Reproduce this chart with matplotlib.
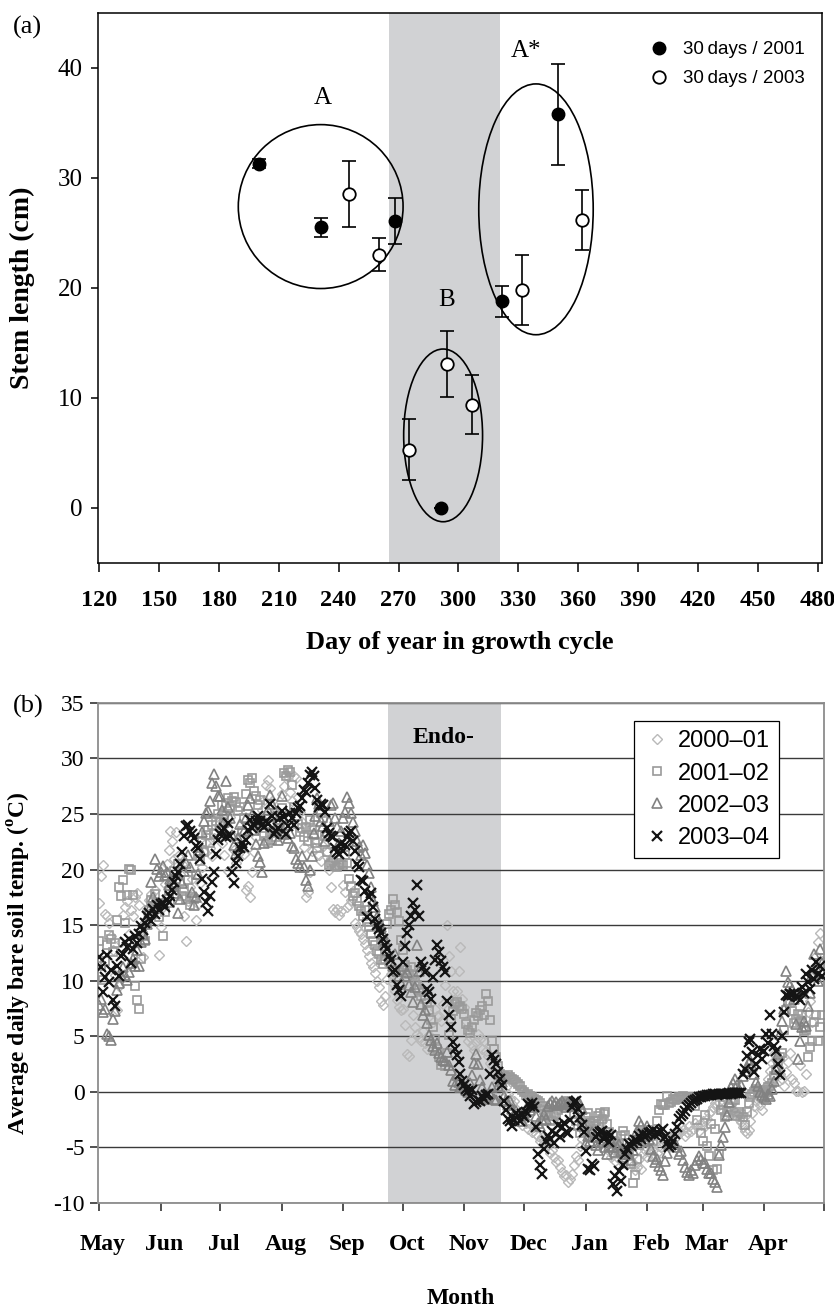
import matplotlib.pyplot as plt
from matplotlib.patches import Ellipse
import numpy as np

plt.rcParams['font.family'] = 'Liberation Serif'
plt.rcParams['axes.unicode_minus'] = False
plt.rcParams['mathtext.fontset'] = 'custom'
plt.rcParams['mathtext.rm'] = 'Liberation Serif'
plt.rcParams['mathtext.bf'] = 'Liberation Serif:bold'

# ---- (a) stem length after 30 days ----
day_2001 = [200, 231, 268, 291, 322, 350]
len_2001 = [31.3, 25.5, 26.1, 0.0, 18.8, 35.8]
err_2001 = [0.4, 0.9, 2.1, 0.0, 1.4, 4.6]

day_2003 = [245, 260, 275, 294, 307, 332, 362]
len_2003 = [28.5, 23.0, 5.3, 13.1, 9.4, 19.8, 26.2]
err_2003 = [3.0, 1.5, 2.8, 3.0, 2.65, 3.2, 2.75]

# group outlines: centre day, centre length, width (days), height (cm)
groups = {'A': (231, 27.4, 82.5, 14.9),
          'B': (292.3, 6.6, 39.5, 15.7),
          'A*': (338.8, 27.15, 57.3, 22.8)}

# ---- (b) average daily bare soil temperature, one value per day from 1 May ----
months = ['May', 'Jun', 'Jul', 'Aug', 'Sep', 'Oct', 'Nov', 'Dec', 'Jan', 'Feb', 'Mar', 'Apr']
month_days = [31, 30, 31, 31, 30, 31, 30, 31, 31, 28, 31, 30]

temp_0001 = [
    17.0, 19.4, 20.4, 16.0, 15.8, 15.2, 14.0, 12.8, 10.5, 7.4, 9.5, 13.5, 15.9, 16.6, 17.2, 14.2, 16.4, 15.8, 17.5, 17.9, 16.8, 14.6, 12.1, 15.3, 16.4, 17.3, 17.8, 16.9, 18.2, 16.5, 12.3,
    14.8, 16.6, 18.7, 20.5, 21.8, 23.5, 22.6, 21.0, 23.4, 21.2, 19.6, 20.5, 15.8, 13.6, 17.2, 18.4, 19.2, 17.6, 15.5, 16.9, 18.8, 20.2, 21.7, 22.4, 23.1, 21.9, 21.2, 22.8, 24.2, 24.7,
    23.6, 22.4, 21.3, 24.2, 19.9, 24.7, 23.1, 21.8, 20.6, 21.4, 22.8, 23.5, 21.4, 18.2, 18.5, 17.5, 19.8, 21.6, 22.9, 23.8, 24.6, 25.4, 26.3, 27.6, 28.1, 27.3, 26.2, 25.1, 24.4, 23.7, 25.0,
    26.8, 27.5, 28.5, 28.3, 27.0, 26.2, 28.4, 28.2, 26.5, 25.2, 24.3, 22.0, 17.5, 18.0, 19.8, 21.7, 23.7, 24.5, 22.6, 21.3, 20.8, 22.1, 23.0, 21.6, 20.0, 18.4, 16.5, 16.2, 16.5, 15.9, 16.3,
    18.6, 18.0, 16.6, 16.8, 17.3, 18.1, 15.2, 14.8, 14.5, 14.2, 13.8, 13.3, 12.8, 12.2, 11.6, 11.2, 10.7, 10.0, 9.4, 8.2, 7.8, 8.6, 10.2, 11.4, 10.6, 9.8, 9.1, 8.3, 7.6, 7.4,
    7.5, 6.0, 3.4, 3.2, 4.7, 6.9, 5.8, 5.2, 4.9, 4.6, 5.5, 4.4, 3.9, 5.1, 4.4, 6.3, 7.5, 6.8, 6.8, 6.4, 7.9, 9.6, 15.0, 12.2, 10.9, 9.1, 8.2, 9.1, 10.9, 13.0, 8.4,
    7.6, 6.4, 4.6, 4.9, 4.2, 3.8, 4.5, 5.2, 4.8, 3.9, 4.6, 3.7, 3.2, 2.6, 2.3, 1.8, 1.4, 1.0, 0.6, 0.9, 1.3, 0.4, -0.2, -0.6, -1.1, -0.8, -1.5, -2.1, -2.6, -3.0,
    -2.4, -2.8, -3.3, -2.9, -3.6, -3.2, -3.8, -4.0, -4.4, -4.1, -4.4, -4.6, -4.8, -5.5, -5.2, -5.9, -6.3, -6.1, -6.8, -7.2, -7.6, -7.5, -8.1, -7.8, -7.4, -6.6, -5.8, -6.1, -4.9, -4.2, -3.6,
    -3.1, -2.8, -3.4, -2.6, -3.0, -3.7, -2.9, -2.5, -2.6, -3.3, -4.2, -4.8, -5.3, -5.9, -5.5, -6.2, -5.9, -5.4, -5.8, -6.4, -5.6, -5.0, -5.7, -6.3, -6.6, -7.0, -6.8, -6.0, -6.9, -5.6, -5.2,
    -5.9, -5.4, -4.8, -5.2, -5.9, -5.5, -4.9, -5.0, -4.6, -4.2, -4.6, -5.0, -4.4, -4.0, -3.6, -4.0, -3.5, -3.1, -3.4, -4.0, -3.6, -3.1, -3.5, -3.3, -2.8, -3.1, -3.5, -3.0,
    -2.6, -3.1, -2.4, -1.9, -1.7, -1.4, -1.0, -1.2, -0.9, -1.5, -1.7, -2.0, -1.8, -1.4, -1.2, -1.6, -1.8, -2.1, -2.4, -2.7, -3.2, -3.5, -3.7, -3.4, -2.6, -1.9, -1.3, -0.8, -0.5, -1.2, -1.6,
    -0.4, 0.5, 1.2, 1.9, 2.6, 3.4, 2.9, 2.2, 1.6, 1.2, 0.5, 1.8, 2.7, 3.5, 1.2, 0.8, 0.1, 0.1, 2.4, 0.0, 0.1, 1.6, 7.2, 8.2, 6.3, 10.4, 12.2, 13.5, 14.3, 11.8,
]

temp_0102 = [
    13.6, 11.3, 10.1, 11.8, 13.2, 14.1, 13.8, 12.6, 13.4, 15.5, 18.4, 17.6, 19.1, 15.2, 17.7, 20.1, 20.0, 17.7, 9.5, 8.3, 7.5, 12.0, 14.0, 13.6, 15.2, 16.4, 17.3, 16.0, 17.8, 16.5, 15.7,
    17.0, 14.0, 16.2, 17.4, 18.1, 17.0, 18.8, 19.9, 19.2, 20.5, 18.9, 17.6, 18.3, 17.4, 19.1, 16.8, 17.5, 17.4, 19.5, 21.2, 20.8, 22.5, 21.6, 23.1, 23.6, 22.4, 24.0, 23.2, 24.4, 25.0,
    24.3, 25.8, 24.9, 26.0, 26.4, 25.7, 26.2, 26.5, 26.1, 25.3, 25.6, 23.5, 24.6, 26.8, 28.1, 27.8, 28.2, 27.1, 26.6, 25.8, 26.3, 24.0, 23.0, 22.6, 22.4, 23.3, 22.7, 23.5, 22.9, 24.2, 23.7,
    25.5, 28.7, 28.4, 29.0, 28.8, 27.6, 25.6, 24.8, 24.1, 23.4, 23.7, 22.9, 23.8, 22.6, 24.5, 23.6, 23.1, 22.4, 21.9, 25.7, 25.1, 24.6, 23.0, 21.6, 20.4, 20.6, 20.8, 20.3, 20.2, 20.4, 20.6,
    20.4, 21.3, 20.6, 19.2, 18.5, 17.6, 17.9, 17.2, 16.7, 16.3, 15.8, 16.4, 15.3, 14.8, 14.2, 13.6, 13.2, 12.7, 12.4, 11.9, 11.5, 12.0, 15.1, 16.0, 16.4, 17.4, 16.8, 16.2, 15.4, 13.7,
    12.8, 11.4, 11.0, 10.6, 11.2, 10.5, 10.0, 9.6, 9.2, 8.6, 9.0, 8.4, 8.0, 7.4, 6.5, 5.8, 4.8, 3.9, 3.1, 2.4, 2.8, 2.3, 3.5, 5.1, 6.6, 7.3, 7.9, 8.1, 7.6, 7.7, 7.5,
    7.0, 6.1, 5.6, 5.3, 5.8, 6.5, 7.1, 6.8, 7.4, 7.7, 6.9, 8.8, 8.2, 6.5, 4.6, 3.9, 3.1, 2.3, 1.6, 1.2, 1.4, 1.35, 1.5, 1.3, 1.2, 1.1, 0.9, 0.7, 0.5, 0.2,
    0.0, -0.3, -0.2, -0.4, -0.5, -0.6, -0.7, -0.8, -1.0, -1.3, -1.6, -1.9, -2.2, -2.6, -2.5, -2.2, -2.0, -1.6, -1.3, -1.1, -1.0, -0.9, -0.8, -1.1, -1.4, -2.0, -2.6, -3.1, -3.7, -3.2, -2.8,
    -2.3, -1.9, -2.8, -3.4, -3.1, -2.6, -2.2, -1.9, -2.4, -2.0, -1.8, -2.9, -3.6, -4.4, -4.0, -4.4, -4.9, -5.2, -4.0, -3.5, -3.9, -4.6, -5.6, -6.5, -8.2, -7.5, -6.0, -4.8, -3.9, -3.6, -4.1,
    -3.8, -3.4, -4.0, -4.4, -3.6, -2.6, -1.6, -1.1, -1.2, -1.2, -0.4, -1.0, -0.9, -0.6, -0.7, -0.6, -0.5, -0.5, -0.4, -0.6, -0.5, -0.5, -0.6, -0.6, -1.3, -2.5, -0.5, -3.7,
    -4.4, -2.1, -4.9, -5.8, -2.9, -7.0, -3.3, -6.9, -5.6, -1.6, -1.2, -2.3, -1.8, -1.4, -1.0, -0.7, -0.7, -2.2, -1.8, -2.0, -2.3, -3.0, -1.8, -1.0, -0.5, -0.2, 0.0, 0.3, 0.2, 0.1, 0.0,
    0.2, 0.0, 0.4, 0.5, 0.8, 1.4, 2.0, 2.8, 3.1, 3.5, 5.6, 7.4, 8.2, 8.0, 7.3, 6.2, 6.6, 7.0, 6.4, 6.9, 5.5, 5.6, 3.1, 4.0, 4.6, 6.3, 6.9, 4.6, 5.8, 6.9,
]

temp_0203 = [
    7.8, 8.4, 7.2, 7.5, 5.2, 5.0, 4.7, 6.6, 7.3, 9.2, 9.8, 10.4, 11.2, 10.5, 10.1, 10.8, 11.6, 12.0, 11.3, 12.8, 11.3, 13.5, 14.2, 13.8, 15.1, 16.4, 18.9, 17.5, 21.0, 20.1, 19.4,
    19.8, 20.3, 19.5, 19.8, 18.6, 19.2, 19.2, 18.5, 17.9, 16.1, 17.4, 18.8, 19.9, 20.6, 21.3, 20.2, 18.0, 16.8, 17.5, 19.6, 21.8, 23.4, 24.4, 25.1, 25.3, 26.2, 27.8, 28.6, 27.5, 26.6,
    26.6, 25.4, 24.3, 28.0, 25.6, 24.6, 23.1, 22.2, 21.5, 22.8, 24.1, 22.1, 23.5, 24.6, 25.8, 26.4, 24.9, 23.6, 22.3, 21.2, 20.7, 19.8, 22.4, 24.2, 25.4, 26.7, 25.9, 24.8, 23.6, 22.7, 23.5,
    26.6, 23.2, 24.0, 22.8, 23.3, 22.1, 21.9, 21.0, 20.6, 20.2, 21.2, 20.2, 19.1, 18.5, 20.0, 21.2, 23.3, 24.8, 26.4, 25.9, 24.4, 23.9, 22.6, 23.5, 24.4, 25.8, 26.0, 24.6, 23.8, 22.4, 23.5,
    24.6, 25.2, 26.5, 26.0, 25.1, 24.3, 23.5, 22.6, 22.0, 21.3, 22.2, 21.5, 20.4, 19.7, 18.4, 17.2, 16.6, 15.7, 15.2, 14.8, 14.2, 13.6, 12.8, 12.2, 11.8, 11.3, 12.4, 10.9, 10.4, 9.8,
    11.3, 10.4, 10.8, 9.6, 9.0, 8.1, 9.4, 13.2, 10.9, 7.9, 6.9, 7.4, 6.2, 5.1, 4.7, 4.1, 3.8, 4.4, 3.5, 3.1, 2.9, 2.8, 3.6, 2.4, 2.0, 1.0, 0.6, 1.5, 0.9, 0.4, 0.7,
    0.6, 0.2, 0.0, 0.8, 1.5, 2.6, 3.4, 2.5, 1.1, 0.4, -0.3, -0.5, -0.6, -0.2, 0.4, -0.6, -0.7, 0.5, 1.6, 0.9, -0.4, -0.7, -1.2, -0.8, -1.5, -2.0, -1.7, -2.3, -1.9, -2.6,
    -2.1, -1.8, -1.2, -1.6, -0.9, -1.4, -2.2, -2.8, -3.1, -2.5, -2.0, -2.4, -1.3, -1.0, -0.8, -1.1, -0.9, -1.2, -1.0, -0.8, -1.1, -1.4, -0.9, -1.2, -0.8, -1.0, -1.3, -0.9, -1.1, -1.5, -3.1,
    -4.6, -4.0, -4.4, -3.6, -4.1, -4.8, -5.2, -4.5, -3.8, -4.3, -5.0, -5.6, -4.9, -4.4, -5.0, -5.4, -5.0, -4.7, -5.3, -5.9, -5.6, -4.9, -5.6, -6.1, -5.2, -4.3, -3.5, -2.6, -3.0, -3.8, -4.4,
    -3.1, -4.2, -5.1, -5.8, -6.3, -6.0, -6.7, -7.0, -7.5, -6.2, -5.5, -4.8, -4.4, -4.2, -4.7, -5.0, -5.6, -5.3, -6.1, -6.8, -7.2, -7.5, -7.0, -7.3, -6.6, -6.1, -5.8, -6.0,
    -6.4, -6.4, -6.9, -7.3, -7.3, -7.8, -8.1, -8.6, -5.7, -4.8, -4.1, -3.2, -2.1, -0.9, 0.4, 0.8, 1.2, 0.6, 0.1, 0.6, 1.4, 1.9, 2.2, 2.6, 2.9, 2.3, 1.6, 0.9, 0.5, 0.0, -0.3,
    -0.5, -0.6, -0.2, -0.4, 0.3, 1.0, 2.1, 3.4, 5.2, 6.4, 7.5, 10.9, 9.9, 9.6, 9.2, 8.4, 6.1, 3.0, 4.6, 5.8, 6.4, 5.9, 7.7, 8.9, 10.5, 12.4, 11.2, 10.0, 12.9, 11.6,
]

temp_0304 = [
    12.1, 11.2, 9.0, 10.3, 12.3, 9.9, 11.0, 8.3, 7.7, 11.3, 10.4, 12.2, 12.4, 13.5, 13.0, 13.8, 11.6, 12.9, 14.0, 13.4, 14.2, 14.9, 14.6, 15.2, 15.8, 16.1, 15.4, 16.5, 16.0, 16.8, 16.4,
    16.9, 17.0, 16.6, 17.3, 17.1, 17.6, 18.2, 18.9, 19.4, 19.8, 20.5, 21.6, 23.0, 23.9, 24.0, 23.5, 23.2, 22.8, 22.1, 21.9, 21.0, 19.2, 18.0, 17.1, 16.3, 17.6, 18.9, 19.8, 21.4, 22.7,
    23.2, 23.5, 23.7, 22.9, 24.2, 23.0, 19.8, 18.8, 20.6, 21.2, 21.9, 22.4, 22.0, 22.7, 23.6, 24.5, 23.7, 24.0, 24.4, 24.8, 24.4, 24.0, 23.8, 24.4, 24.1, 25.9, 24.8, 23.2, 23.5, 23.7, 24.6,
    25.3, 24.7, 23.2, 23.9, 25.1, 24.6, 24.0, 25.1, 25.5, 25.7, 26.4, 27.2, 27.0, 27.8, 28.5, 28.8, 28.4, 27.3, 26.3, 25.6, 25.9, 25.8, 25.2, 23.7, 23.3, 23.0, 22.9, 21.9, 21.6, 21.4, 22.3,
    21.7, 22.2, 22.9, 23.3, 23.5, 22.6, 21.7, 20.5, 20.2, 19.1, 19.0, 18.1, 15.7, 17.5, 17.9, 16.6, 15.6, 15.0, 14.7, 14.3, 13.8, 13.2, 12.9, 12.2, 11.9, 10.8, 11.0, 9.6, 9.2, 8.6,
    11.7, 13.1, 14.3, 15.0, 15.8, 17.0, 16.4, 18.6, 15.8, 11.7, 11.2, 10.8, 9.3, 9.0, 8.4, 10.3, 11.9, 13.2, 12.6, 11.8, 11.2, 10.8, 8.2, 6.9, 5.8, 4.5, 3.9, 3.3, 2.7, 1.6, 1.0,
    0.6, 0.3, 0.1, -0.4, 0.2, -1.1, -0.9, -0.7, -0.8, -0.4, -0.6, -0.3, -0.2, 1.6, 3.3, 2.9, 2.5, 1.8, 1.2, 0.6, -0.8, -1.6, -2.4, -2.6, -3.1, -2.5, -1.9, -2.2, -2.6, -2.0,
    -2.3, -1.8, -1.1, -1.3, -1.0, -1.4, -3.2, -5.6, -6.6, -7.4, -5.1, -4.4, -4.0, -4.2, -3.5, -4.6, -3.8, -3.0, -4.1, -3.2, -2.8, -3.6, -3.7, -2.5, -1.4, -0.9, -0.8, -1.5, -2.3, -3.0, -3.6,
    -5.3, -6.9, -7.0, -6.5, -6.7, -4.1, -3.8, -3.6, -3.5, -4.2, -4.0, -3.8, -4.5, -3.9, -8.3, -7.6, -8.9, -7.1, -8.0, -6.6, -5.6, -5.1, -4.7, -4.9, -4.6, -4.3, -4.4, -4.0, -4.2, -3.8, -4.1,
    -3.9, -3.7, -3.6, -3.4, -3.9, -3.6, -3.8, -3.5, -3.3, -4.1, -4.6, -5.0, -4.8, -4.4, -3.8, -3.2, -2.4, -2.2, -2.0, -1.7, -1.4, -1.2, -1.0, -0.8, -0.7, -0.6, -0.5, -0.5,
    -0.4, -0.4, -0.3, -0.3, -0.3, -0.2, -0.2, -0.3, -0.2, -0.2, -0.2, -0.15, -0.15, -0.1, -0.2, -0.1, -0.1, -0.1, -0.1, -0.1, 1.6, 2.1, 3.2, 4.5, 4.8, 3.6, 1.8, 2.5, 3.3, 3.9, 3.0,
    3.7, 5.2, 4.4, 6.9, 5.2, 4.1, 3.7, 2.5, 1.5, 5.0, 7.2, 8.7, 8.6, 8.8, 8.7, 8.9, 8.6, 8.5, 8.3, 9.4, 8.9, 10.6, 9.9, 9.3, 11.0, 10.2, 11.7, 10.6, 11.3, 10.4,
]

series = [('2000\u201301', temp_0001, 'D', '#b9b9b9', 4.8, 1.0),
          ('2001\u201302', temp_0102, 's', '#9a9a9a', 6.0, 1.2),
          ('2002\u201303', temp_0203, '^', '#828282', 6.5, 1.2),
          ('2003\u201304', temp_0304, 'x', '#141414', 6.5, 1.6)]

fig = plt.figure(figsize=(8.34, 13.09), dpi=100)

# ---------------- panel (a) ----------------
ax1 = fig.add_axes([0.1175, 0.5699, 0.8681, 0.4202])
ax1.axvspan(265, 321, color='#d1d2d4', lw=0, zorder=0)
ax1.errorbar(day_2001, len_2001, yerr=err_2001, fmt='none', ecolor='k',
             elinewidth=1.2, capsize=4.8, capthick=1.2, zorder=2)
ax1.errorbar(day_2003, len_2003, yerr=err_2003, fmt='none', ecolor='k',
             elinewidth=1.2, capsize=4.8, capthick=1.2, zorder=2)
h1, = ax1.plot(day_2001, len_2001, 'o', color='k', ms=9, ls='none',
               label='30\u2009days / 2001', zorder=4)
h2, = ax1.plot(day_2003, len_2003, 'o', mfc='white', mec='k', mew=1.3, ms=9,
               ls='none', label='30\u2009days / 2003', zorder=4)

for name, (cx, cy, w, h) in groups.items():
    ax1.add_patch(Ellipse((cx, cy), w, h, fill=False, ec='k', lw=1.2, zorder=3))
ax1.text(232, 37.3, 'A', ha='center', va='center', fontsize=18)
ax1.text(293.8, 18.9, 'B', ha='center', va='center', fontsize=18)
ax1.text(334, 41.5, 'A*', ha='center', va='center', fontsize=18)

ax1.set_xlim(119.5, 482)
ax1.set_ylim(-5, 45)
ax1.set_xticks(np.arange(120, 481, 30))
ax1.set_yticks([0, 10, 20, 30, 40])
for lab in ax1.get_xticklabels():
    lab.set_fontweight('bold')
ax1.tick_params(axis='x', direction='out', length=6.5, width=1.1, labelsize=17.5, pad=13)
ax1.tick_params(axis='y', direction='out', length=5, width=1.1, labelsize=18, pad=6)
for sp in ax1.spines.values():
    sp.set_linewidth(1.1)
ax1.set_xlabel('Day of year in growth cycle', fontsize=19, fontweight='bold', labelpad=14)
ax1.set_ylabel('Stem length (cm)', fontsize=20, fontweight='bold')
ax1.yaxis.set_label_coords(-0.087, 0.5)
ax1.legend(handles=[h1, h2], loc='upper left', bbox_to_anchor=(0.755, 0.949),
           frameon=False, borderpad=0, borderaxespad=0, handlelength=1.5,
           handletextpad=0.55, labelspacing=0.65,
           prop={'family': 'Liberation Sans', 'size': 13.5})
fig.text(13 / 834, 1 - 27 / 1309, '(a)', ha='left', va='center', fontsize=19)

# ---------------- panel (b) ----------------
ax2 = fig.add_axes([0.1175, 0.0810, 0.8705, 0.3820])
ax2.axvspan(145.7, 202.4, color='#d1d2d4', lw=0, zorder=0.2)
for label, temps, mk, col, ms, mew in series:
    x = np.arange(len(temps))
    if mk == 'x':
        ax2.plot(x, temps, ls='none', marker=mk, color=col, ms=ms, mew=mew, label=label, zorder=3)
    else:
        ax2.plot(x, temps, ls='none', marker=mk, mfc='none', mec=col, ms=ms, mew=mew,
                 label=label, zorder=2)

ax2.text(173.5, 31.9, 'Endo-', ha='center', va='center', fontsize=17, fontweight='bold')

starts = np.concatenate([[0], np.cumsum(month_days)])
ax2.set_xlim(-0.5, 365)
ax2.set_ylim(-10, 35)
ax2.set_xticks(starts)
ax2.set_xticklabels([])
ax2.set_xticks(starts[:-1] + 2, minor=True)
ax2.set_xticklabels(months, minor=True, fontweight='bold', fontsize=17)
ax2.tick_params(axis='x', which='major', direction='out', length=6, width=1.1, color='#222')
ax2.tick_params(axis='x', which='minor', length=0, pad=22)
ax2.set_yticks(np.arange(-10, 36, 5))
ax2.tick_params(axis='y', direction='out', length=5.5, width=1.1, color='#222', labelsize=17, pad=4)
ax2.set_axisbelow(True)
ax2.yaxis.grid(True, color='#3a3a3a', lw=1.0)
for sp in ax2.spines.values():
    sp.set_color('#8c8c8c')
    sp.set_linewidth(1.3)
ax2.set_xlabel('Month', fontsize=17, fontweight='bold', labelpad=24)
ax2.set_ylabel(r'Average daily bare soil temp. ($^{\mathbf{o}}$C)', fontsize=17, fontweight='bold')
ax2.yaxis.set_label_coords(-0.089, 0.48)
leg = ax2.legend(loc='upper left', bbox_to_anchor=(0.738, 0.964), frameon=True,
                 fancybox=False, framealpha=1, edgecolor='k', borderpad=0.4,
                 borderaxespad=0, handlelength=1.15, handletextpad=0.31,
                 labelspacing=0.43, prop={'family': 'Liberation Sans', 'size': 17})
leg.get_frame().set_linewidth(0.9)
fig.text(13 / 834, 1 - 706 / 1309, '(b)', ha='left', va='center', fontsize=19)

fig.savefig('out.png', dpi=100)
